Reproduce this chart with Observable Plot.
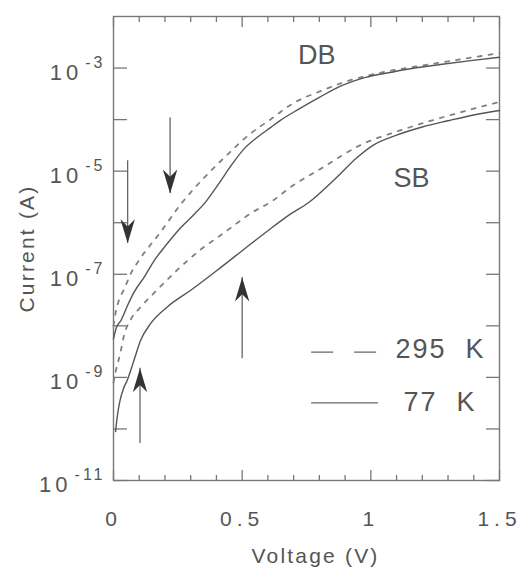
<!DOCTYPE html>
<html><head><meta charset="utf-8">
<script src="https://cdn.jsdelivr.net/npm/d3@7"></script>
<script src="https://cdn.jsdelivr.net/npm/@observablehq/plot@0.6"></script>
<style>body{margin:0;background:#fff}#chart{width:526px;height:574px}</style>
</head><body><div id="chart"></div>
<script>
// ---- axes ----
const xTicks = [0, 0.5, 1, 1.5];
const xTickLabels = ["0", "0.5", "1", "1.5"];
const xMinorTicks = [0.1, 0.2, 0.3, 0.4, 0.6, 0.7, 0.8, 0.9, 1.1, 1.2, 1.3, 1.4];
const yDecades = [1e-11, 1e-10, 1e-9, 1e-8, 1e-7, 1e-6, 1e-5, 1e-4, 1e-3];
const yLabelTicks = [1e-11, 1e-9, 1e-7, 1e-5, 1e-3];
const yLabelExponents = ["-11", "-9", "-7", "-5", "-3"];

// ---- series: double barrier (DB) ----
const db295V = [0, 0.01, 0.025, 0.04, 0.07, 0.1, 0.18, 0.265, 0.356, 0.434, 0.525, 0.615, 0.7, 0.8, 0.9, 1.0, 1.1, 1.2, 1.3, 1.4, 1.5];
const db295I = [1.0e-8, 2.0e-8, 3.5e-8, 5.0e-8, 1.1e-7, 1.9e-7, 6.3e-7, 2.4e-6, 7.8e-6, 1.9e-5, 5.0e-5, 1.05e-4, 2.1e-4, 3.5e-4, 5.4e-4, 7.4e-4, 9.3e-4, 1.12e-3, 1.35e-3, 1.62e-3, 1.95e-3];
const db77V = [0, 0.01, 0.03, 0.055, 0.08, 0.12, 0.16, 0.21, 0.26, 0.31, 0.36, 0.41, 0.46, 0.51, 0.56, 0.61, 0.65, 0.72, 0.8, 0.88, 0.98, 1.08, 1.17, 1.27, 1.38, 1.5];
const db77I = [5.6e-9, 8.9e-9, 1.3e-8, 2.5e-8, 4.5e-8, 8.9e-8, 1.9e-7, 4.0e-7, 7.9e-7, 1.4e-6, 2.6e-6, 5.8e-6, 1.35e-5, 2.8e-5, 4.6e-5, 7.0e-5, 9.8e-5, 1.6e-4, 2.7e-4, 4.4e-4, 6.6e-4, 8.3e-4, 1.0e-3, 1.17e-3, 1.38e-3, 1.62e-3];

// ---- series: single barrier (SB) ----
const sb295V = [0, 0.01, 0.027, 0.04, 0.066, 0.105, 0.17, 0.247, 0.338, 0.428, 0.532, 0.622, 0.688, 0.816, 0.948, 1.14, 1.34, 1.5];
const sb295I = [7.9e-10, 1.4e-9, 3.0e-9, 6.3e-9, 1.3e-8, 2.3e-8, 5.0e-8, 1.2e-7, 3.0e-7, 6.3e-7, 1.5e-6, 2.75e-6, 4.9e-6, 1.2e-5, 3.0e-5, 6.8e-5, 1.35e-4, 2.2e-4];
const sb77V = [0.008, 0.015, 0.025, 0.04, 0.053, 0.079, 0.105, 0.144, 0.208, 0.3, 0.403, 0.505, 0.6, 0.69, 0.76, 0.86, 0.95, 1.01, 1.1, 1.2, 1.3, 1.4, 1.5];
const sb77I = [8.9e-11, 1.8e-10, 3.5e-10, 6.3e-10, 8.7e-10, 2.1e-9, 5.2e-9, 1.1e-8, 2.3e-8, 4.9e-8, 1.2e-7, 3.0e-7, 7.0e-7, 1.5e-6, 2.5e-6, 7.0e-6, 1.9e-5, 3.2e-5, 5.0e-5, 7.2e-5, 9.5e-5, 1.23e-4, 1.5e-4];

// ---- arrows (voltage, tail current, tip current, direction) ----
const arrowV = [0.055, 0.22, 0.5, 0.103];
const arrowTail = [1.6e-5, 1.07e-4, 2.3e-9, 5.2e-11];
const arrowTip = [4.0e-7, 3.7e-6, 8.7e-8, 1.5e-9];
const arrowDir = ["down", "down", "up", "up"];

// ---- labels ----
const curveLabels = ["DB", "SB"];
const curveLabelV = [0.79, 1.158];
const curveLabelI = [1.8e-3, 7.2e-6];
const legendLabels = ["295  K", "77  K"];

const zip = (V, I) => V.map((v, k) => ({v, i: I[k]}));
const db295 = zip(db295V, db295I), db77 = zip(db77V, db77I);
const sb295 = zip(sb295V, sb295I), sb77 = zip(sb77V, sb77I);
const arrows = arrowV.map((v, k) => ({v, tail: arrowTail[k], tip: arrowTip[k], dir: arrowDir[k]}));
const labels = curveLabels.map((t, k) => ({t, v: curveLabelV[k], i: curveLabelI[k]}));

const arrowHead = {
  draw(ctx, size) {
    const r = Math.sqrt(size / Math.PI);
    ctx.moveTo(0, 0);
    ctx.lineTo(0.6 * r, 2 * r);
    ctx.lineTo(0, 1.4 * r);
    ctx.lineTo(-0.6 * r, 2 * r);
    ctx.closePath();
  }
};

const ink = "#555", frameInk = "#777";
const tickOnly = {tickFormat: () => "", label: null, stroke: frameInk, strokeWidth: 1.3};
const fmtX = d => xTickLabels[xTicks.indexOf(d)];
const fmtY = d => yLabelExponents[yLabelTicks.indexOf(d)];

const svg = Plot.plot({
  width: 526, height: 574,
  marginLeft: 113, marginRight: 27, marginTop: 16, marginBottom: 94,
  style: {fontFamily: '"Liberation Sans", Arial, sans-serif', fontSize: "21px", color: ink, background: "#fff"},
  x: {domain: [0, 1.5]},
  y: {type: "log", domain: [1e-11, 1e-2]},
  marks: [
    Plot.frame({stroke: frameInk, strokeWidth: 1.4}),
    Plot.axisX({anchor: "bottom", ticks: xMinorTicks, tickSize: -5, ...tickOnly}),
    Plot.axisX({anchor: "top", ticks: xMinorTicks, tickSize: -5, ...tickOnly}),
    Plot.axisX({anchor: "bottom", ticks: xTicks, tickSize: -10, ...tickOnly}),
    Plot.axisX({anchor: "top", ticks: xTicks, tickSize: -10, ...tickOnly}),
    Plot.axisY({anchor: "left", ticks: yDecades, tickSize: -14, ...tickOnly}),
    Plot.axisY({anchor: "right", ticks: yDecades, tickSize: -14, ...tickOnly}),
    Plot.axisX({anchor: "bottom", ticks: xTicks, tickSize: 0, tickPadding: 31, tickFormat: fmtX, label: null, fill: ink}),
    Plot.axisY({anchor: "left", ticks: yLabelTicks, tickSize: 0, tickPadding: 8, dy: 5, tickFormat: fmtY, label: null, fill: ink}),
    Plot.text(["Current (A)"], {frameAnchor: "left", textAnchor: "middle", lineAnchor: "middle", dx: -86, rotate: -90, fill: ink, fontSize: 21}),
    Plot.text(["Voltage (V)"], {frameAnchor: "bottom", textAnchor: "middle", lineAnchor: "middle", dy: 76, dx: 9, fill: ink, fontSize: 21}),
    // curves
    Plot.line(db295, {x: "v", y: "i", stroke: "#808080", strokeWidth: 1.8, strokeDasharray: "4,7", curve: "monotone-x"}),
    Plot.line(sb295, {x: "v", y: "i", stroke: "#808080", strokeWidth: 1.8, strokeDasharray: "4,7", curve: "monotone-x"}),
    Plot.line(db77, {x: "v", y: "i", stroke: ink, strokeWidth: 1.4, curve: "monotone-x"}),
    Plot.line(sb77, {x: "v", y: "i", stroke: ink, strokeWidth: 1.4, curve: "monotone-x"}),
    // arrows
    Plot.ruleX(arrows, {x: "v", y1: "tail", y2: "tip", stroke: "#666", strokeWidth: 1.3}),
    Plot.dot(arrows, {x: "v", y: "tip", symbol: arrowHead, r: 12, fill: "#333", stroke: "none", rotate: d => d.dir === "down" ? 180 : 0}),
    // curve labels
    Plot.text(labels, {x: "v", y: "i", text: "t", fontSize: 27, fill: ink}),
    // legend
    Plot.ruleY([3.1e-9], {x1: 0.77, x2: 1.03, stroke: "#666", strokeWidth: 1.3, strokeDasharray: "22,21"}),
    Plot.ruleY([3.2e-10], {x1: 0.77, x2: 1.03, stroke: "#666", strokeWidth: 1.3}),
    Plot.text([legendLabels[0]], {x: 1.096, y: 3.5e-9, textAnchor: "start", fontSize: 27, fill: ink}),
    Plot.text([legendLabels[1]], {x: 1.127, y: 3.3e-10, textAnchor: "start", fontSize: 27, fill: ink})
  ]
});

const ns = "http://www.w3.org/2000/svg";
svg.querySelectorAll('[aria-label="y-axis tick label"] text').forEach(t => {
  const exp = t.textContent;
  if (!exp) return;
  t.textContent = "";
  const base = document.createElementNS(ns, "tspan");
  base.textContent = "10";
  base.setAttribute("font-size", "22");
  base.setAttribute("letter-spacing", "4");
  const sup = document.createElementNS(ns, "tspan");
  sup.setAttribute("dy", "-12");
  sup.setAttribute("dx", "3");
  sup.setAttribute("font-size", "16");
  sup.setAttribute("letter-spacing", "3");
  sup.textContent = exp;
  t.append(base, sup);
});
svg.querySelectorAll('[aria-label="x-axis tick label"] text').forEach(t => t.setAttribute("letter-spacing", "5"));
svg.querySelectorAll('[aria-label="text"] text').forEach(t => {
  const s = t.textContent;
  if (s === "Current (A)" || s === "Voltage (V)") t.setAttribute("letter-spacing", "2.2");
  if (s.includes("K")) t.setAttribute("letter-spacing", "2");
});
document.getElementById("chart").append(svg);
</script>
</body></html>
